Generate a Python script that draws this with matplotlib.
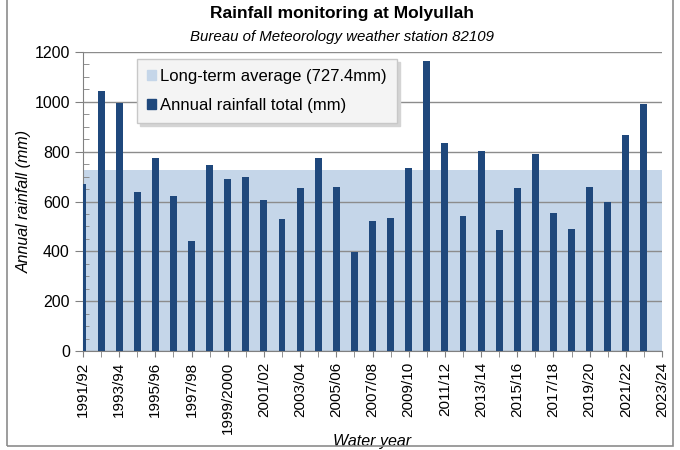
import numpy as np
import matplotlib
matplotlib.use('Agg')
import matplotlib.pyplot as plt
from matplotlib.patches import Patch, Rectangle
from matplotlib.ticker import MultipleLocator

plt.rcParams['font.family'] = ['Liberation Sans', 'DejaVu Sans']

years = ['1991/92', '1992/93', '1993/94', '1994/95', '1995/96', '1996/97',
         '1997/98', '1998/99', '1999/2000', '2000/01', '2001/02', '2002/03',
         '2003/04', '2004/05', '2005/06', '2006/07', '2007/08', '2008/09',
         '2009/10', '2010/11', '2011/12', '2012/13', '2013/14', '2014/15',
         '2015/16', '2016/17', '2017/18', '2018/19', '2019/20', '2020/21',
         '2021/22', '2022/23', '2023/24']
rain = [669, 1042, 995, 637, 776, 623, 441, 748, 692, 697, 605, 531,
        654, 773, 660, 397, 523, 534, 733, 1164, 835, 542, 803, 487,
        654, 792, 552, 491, 657, 598, 868, 991, np.nan]
avg = 727.4

bar_col = '#1f487c'
avg_col = '#c5d6e9'

fig = plt.figure(figsize=(6.8, 4.5), dpi=100)
ax = fig.add_axes([83/680, 1-351/450, (662-83)/680, (351-52)/450])

x = np.arange(len(years))
ax.fill_between([0, len(years)-1], 0, avg, color=avg_col, zorder=0, lw=0)
ax.bar(x, rain, width=0.38, color=bar_col, zorder=3)

ax.set_xlim(0, len(years)-1)
ax.set_ylim(0, 1200)
ax.yaxis.set_major_locator(MultipleLocator(200))
ax.yaxis.set_minor_locator(MultipleLocator(50))
ax.grid(axis='y', which='major', color='#8c8c8c', lw=1, zorder=1)
ax.set_axisbelow(False)

ax.set_xticks(x, minor=True)
ax.set_xticks(x[::2])
ax.set_xticklabels(years[::2], rotation=90, fontsize=11)
ax.tick_params(axis='x', which='both', length=4, color='#808080', direction='out')
ax.tick_params(axis='y', which='major', length=6, color='#808080', direction='out', labelsize=11.5)
ax.tick_params(axis='y', which='minor', length=4, color='#808080', direction='in')

for s in ['top', 'right']:
    ax.spines[s].set_visible(False)
for s in ['left', 'bottom']:
    ax.spines[s].set_color('#808080')

ax.set_ylabel('Annual rainfall (mm)', style='italic', fontsize=11.5, labelpad=2)
ax.set_xlabel('Water year', style='italic', fontsize=11.5, labelpad=0)

fig.text(0.503, 0.969, 'Rainfall monitoring at Molyullah', ha='center', va='center',
         fontsize=12.5, fontweight='bold')
fig.text(0.503, 0.918, 'Bureau of Meteorology weather station 82109', ha='center',
         va='center', fontsize=10.8, style='italic')

handles = [Patch(color=avg_col, label='Long-term average (727.4mm)'),
           Patch(color=bar_col, label='Annual rainfall total (mm)')]
leg = ax.legend(handles=handles, loc='upper left', bbox_to_anchor=(137/680, 1-59/450),
                bbox_transform=fig.transFigure, fontsize=12, frameon=True,
                shadow={'color': '#d4d4d4', 'alpha': 1}, borderaxespad=0,
                fancybox=False, handlelength=0.55, handleheight=0.55, handletextpad=0.25,
                borderpad=0.6, labelspacing=0.85)
leg.get_frame().set_facecolor('#f4f4f4')
leg.get_frame().set_edgecolor('#c8c8c8')
leg.get_frame().set_alpha(1)
leg.set_zorder(5)

fig.add_artist(Rectangle((7/680, 1-446/450), (673-7)/680, 1.1, transform=fig.transFigure,
                         fill=False, edgecolor='#8c8c8c', lw=1.2))

fig.savefig('out.png', dpi=100)
